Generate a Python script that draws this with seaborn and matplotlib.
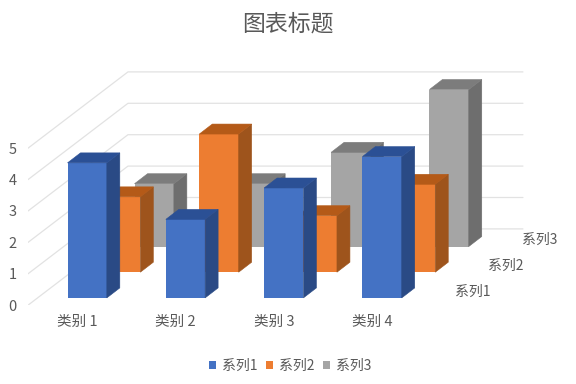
import matplotlib
matplotlib.use("Agg")
import matplotlib.pyplot as plt
from matplotlib.patches import Patch, Polygon
import seaborn as sns

# Chart data
categories = ['类别 1', '类别 2', '类别 3', '类别 4']
series_names = ['系列1', '系列2', '系列3']
series1 = [4.3, 2.5, 3.5, 4.5]
series2 = [2.4, 4.4, 1.8, 2.8]
series3 = [2, 2, 3, 5]
value_ticks = [0, 1, 2, 3, 4, 5]

# front, side, top shades
blue = ['#4472C4', '#2A4A85', '#2B5095']
orange = ['#ED7D31', '#9E541C', '#B45A18']
gray = ['#A5A5A5', '#6E6E6E', '#7C7C7C']
TEXT = '#595959'
GRID = '#E2E2E2'

# fake 3D: shift per series, extrusion per bar (data units)
SHIFT_X, SHIFT_Y = 0.341, 0.818
SIDE_X, SIDE_Y = 0.132, 0.318
WALL_X, WALL_Y = 1.017, 2.43

sns.set_theme(style="white")
plt.rcParams['font.family'] = ['Noto Sans CJK SC', 'DejaVu Sans']

fig = plt.figure(figsize=(5.76, 3.84), dpi=100)
# one category = 98.3 px, one value unit = 31.4 px
ax = fig.add_axes([28 / 576, (384 - 305.2) / 384, 540 / 576, 265 / 384])


def draw_series(values, depth, shades):
    before = len(ax.patches)
    xs = [i + depth * SHIFT_X for i in range(len(values))]
    sns.barplot(x=xs, y=values, native_scale=True, width=0.4, color=shades[0],
                saturation=1, linewidth=0, bottom=depth * SHIFT_Y, errorbar=None, ax=ax)
    for bar in ax.patches[before:len(ax.patches)]:
        x0, y0 = bar.get_x(), bar.get_y()
        w, h = bar.get_width(), bar.get_height()
        x1, y1 = x0 + w, y0 + h
        # thin same-colour edge closes the hairline seam next to the front face
        ax.add_patch(Polygon([(x1, y0), (x1 + SIDE_X, y0 + SIDE_Y), (x1 + SIDE_X, y1 + SIDE_Y), (x1, y1)],
                             closed=True, fc=shades[1], ec=shades[1], lw=0.4))
        ax.add_patch(Polygon([(x0, y1), (x0 + SIDE_X, y1 + SIDE_Y), (x1 + SIDE_X, y1 + SIDE_Y), (x1, y1)],
                             closed=True, fc=shades[2], ec=shades[2], lw=0.4))


# gridlines on the side wall and back wall
x_left, x_back, x_right = -0.602, -0.602 + WALL_X, 4.433
y_base = -0.233
for v in value_ticks:
    ax.plot([x_left, x_back, x_right], [v + y_base, v + y_base + WALL_Y, v + y_base + WALL_Y],
            color=GRID, lw=0.9, zorder=0.5)

# back series first so front ones cover them
draw_series(series3, 2, gray)
draw_series(series2, 1, orange)
draw_series(series1, 0, blue)

ax.set_xlim(x_left, x_left + 540 / 98.3)
ax.set_ylim(y_base, y_base + 265 / 31.4)
ax.set_xlabel('')
ax.set_ylabel('')
sns.despine(ax=ax, left=True, bottom=True)

ax.set_xticks([i - 0.1 for i in range(len(categories))])
ax.set_xticklabels(categories, fontsize=10.5, color=TEXT)
ax.set_yticks([v + y_base for v in value_ticks])
ax.set_yticklabels(value_ticks, fontsize=10.5, color=TEXT)
ax.tick_params(axis='x', length=0, pad=7)
ax.tick_params(axis='y', length=0, pad=8)

# series names along the depth axis
for k, name in enumerate(series_names):
    ax.text(3.74 + k * SHIFT_X, 0.2 + k * SHIFT_Y, name, fontsize=10, color=TEXT, ha='left', va='center')

fig.text(0.5, 1 - 24 / 384, '图表标题', fontsize=16.5, color=TEXT, ha='center', va='center')

handles = [Patch(color=s[0], lw=0) for s in (blue, orange, gray)]
fig.legend(handles, series_names, loc='center', bbox_to_anchor=(290 / 576, 1 - 366 / 384), ncol=3,
           frameon=False, fontsize=10, labelcolor=TEXT, handlelength=0.5, handleheight=0.5,
           handletextpad=0.45, columnspacing=0.6)

plt.savefig('out.png', dpi=100)
